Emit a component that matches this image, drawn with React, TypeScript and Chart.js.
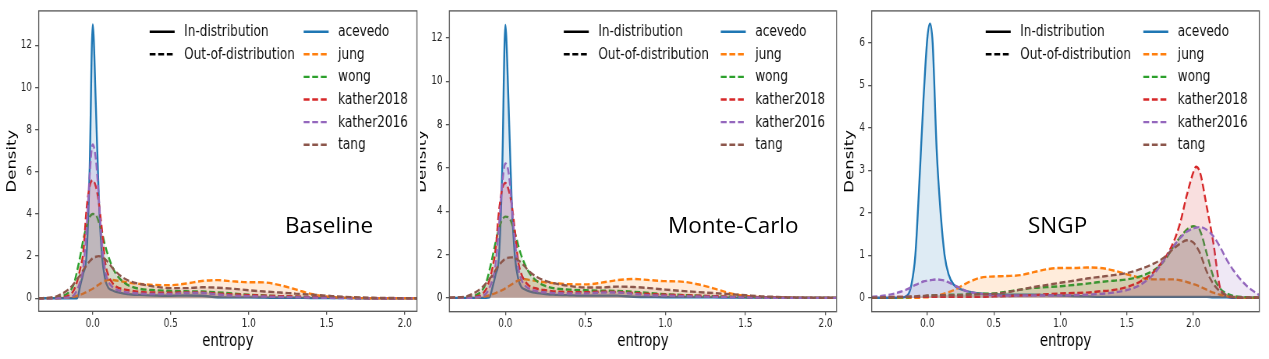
import React, { useEffect, useRef } from 'react';
import { Chart, registerables } from 'chart.js';

Chart.register(...registerables);

// ---------- data ----------
const SERIES_LABELS = ['acevedo', 'jung', 'wong', 'kather2018', 'kather2016', 'tang'];
const SERIES_COLORS = ['#1f77b4', '#ff7f0e', '#2ca02c', '#d62728', '#9467bd', '#8c564b'];
const STYLE_LABELS = ['In-distribution', 'Out-of-distribution'];
const X_TICKS = [0, 0.5, 1, 1.5, 2];
const Y_TICKS_AB = [0, 2, 4, 6, 8, 10, 12];
const Y_TICKS_C = [0, 1, 2, 3, 4, 5, 6];
const PANEL_NOTES = ['Baseline', 'Monte-Carlo', 'SNGP'];

// Baseline
const BASE_X = [-0.35, -0.25, -0.2, -0.15, -0.12, -0.1, -0.08, -0.06, -0.04, -0.02, 0, 0.02, 0.04, 0.06, 0.08, 0.1, 0.125, 0.15, 0.2, 0.25, 0.3, 0.4, 0.5, 0.6, 0.7, 0.8, 0.9, 1.0, 1.1, 1.2, 1.3, 1.4, 1.5, 1.6, 1.7, 1.8, 2.1];
const BASE_ACEVEDO = [0, 0, 0, 0, 0, 0, 0.6, 1.2, 2.0, 6.0, 13.0, 9.2, 4.6, 2.0, 0.9, 0.5, 0.38, 0.3, 0.22, 0.18, 0.16, 0.13, 0.12, 0.13, 0.12, 0.05, 0.04, 0.04, 0.03, 0.02, 0.02, 0.01, 0.01, 0.01, 0, 0, 0];
const BASE_JUNG = [0, 0, 0.01, 0.04, 0.08, 0.12, 0.17, 0.22, 0.3, 0.37, 0.45, 0.55, 0.65, 0.75, 0.83, 0.87, 0.87, 0.84, 0.78, 0.72, 0.68, 0.63, 0.62, 0.7, 0.82, 0.86, 0.8, 0.76, 0.75, 0.62, 0.42, 0.2, 0.08, 0.03, 0.01, 0, 0];
const BASE_WONG = [0, 0.02, 0.08, 0.3, 0.7, 1.3, 2.0, 2.8, 3.4, 3.85, 4.0, 3.95, 3.6, 3.1, 2.5, 2.0, 1.5, 1.15, 0.75, 0.55, 0.45, 0.38, 0.35, 0.33, 0.32, 0.28, 0.22, 0.17, 0.13, 0.1, 0.07, 0.05, 0.03, 0.02, 0.01, 0, 0];
const BASE_KATHER2018 = [0, 0.01, 0.03, 0.15, 0.4, 0.8, 1.4, 2.2, 4.2, 5.3, 5.6, 5.3, 4.5, 3.2, 1.7, 1.1, 0.75, 0.55, 0.42, 0.35, 0.3, 0.27, 0.26, 0.28, 0.27, 0.22, 0.18, 0.15, 0.12, 0.1, 0.08, 0.05, 0.04, 0.02, 0.01, 0, 0];
const BASE_KATHER2016 = [0, 0, 0.01, 0.05, 0.15, 0.4, 0.8, 1.5, 3.2, 5.8, 7.3, 6.6, 4.7, 2.5, 1.3, 0.8, 0.55, 0.42, 0.3, 0.25, 0.22, 0.2, 0.2, 0.25, 0.25, 0.18, 0.12, 0.1, 0.08, 0.06, 0.05, 0.03, 0.02, 0.01, 0, 0, 0];
const BASE_TANG = [0, 0.05, 0.2, 0.45, 0.7, 0.9, 1.1, 1.35, 1.55, 1.75, 1.9, 1.97, 2.0, 1.95, 1.85, 1.7, 1.45, 1.25, 0.95, 0.78, 0.68, 0.55, 0.48, 0.48, 0.52, 0.5, 0.45, 0.38, 0.32, 0.27, 0.22, 0.17, 0.12, 0.07, 0.04, 0.02, 0];

// Monte-Carlo
const MC_X = BASE_X;
const MC_ACEVEDO = [0, 0, 0, 0, 0, 0.02, 0.5, 1.1, 1.9, 5.8, 12.6, 9.0, 4.4, 1.9, 0.9, 0.5, 0.38, 0.3, 0.22, 0.18, 0.15, 0.12, 0.1, 0.1, 0.1, 0.05, 0.04, 0.03, 0.03, 0.02, 0.02, 0.01, 0.01, 0.01, 0, 0, 0];
const MC_JUNG = [0, 0, 0.01, 0.04, 0.08, 0.12, 0.17, 0.22, 0.29, 0.36, 0.44, 0.53, 0.62, 0.72, 0.8, 0.84, 0.86, 0.83, 0.77, 0.72, 0.68, 0.63, 0.62, 0.7, 0.82, 0.87, 0.82, 0.77, 0.75, 0.63, 0.44, 0.22, 0.09, 0.03, 0.01, 0, 0];
const MC_WONG = [0, 0.02, 0.08, 0.3, 0.7, 1.25, 1.9, 2.6, 3.2, 3.6, 3.75, 3.72, 3.45, 3.0, 2.45, 1.95, 1.5, 1.15, 0.75, 0.55, 0.45, 0.38, 0.35, 0.33, 0.32, 0.28, 0.22, 0.17, 0.13, 0.1, 0.07, 0.05, 0.03, 0.02, 0.01, 0, 0];
const MC_KATHER2018 = [0, 0.01, 0.03, 0.15, 0.4, 0.8, 1.4, 2.3, 4.0, 5.0, 5.3, 5.0, 4.3, 3.1, 1.7, 1.1, 0.75, 0.55, 0.42, 0.35, 0.3, 0.27, 0.26, 0.28, 0.27, 0.22, 0.18, 0.15, 0.12, 0.1, 0.08, 0.05, 0.04, 0.02, 0.01, 0, 0];
const MC_KATHER2016 = [0, 0, 0.01, 0.06, 0.2, 0.45, 0.85, 1.6, 3.3, 5.2, 6.2, 5.8, 4.3, 2.6, 1.4, 0.85, 0.55, 0.42, 0.3, 0.25, 0.22, 0.2, 0.2, 0.24, 0.25, 0.18, 0.12, 0.1, 0.08, 0.06, 0.05, 0.03, 0.02, 0.01, 0, 0, 0];
const MC_TANG = [0, 0.05, 0.2, 0.45, 0.68, 0.87, 1.05, 1.3, 1.5, 1.68, 1.8, 1.86, 1.87, 1.83, 1.75, 1.62, 1.42, 1.22, 0.95, 0.78, 0.68, 0.55, 0.48, 0.48, 0.52, 0.5, 0.45, 0.38, 0.32, 0.27, 0.22, 0.17, 0.12, 0.07, 0.04, 0.02, 0];

// SNGP
const SNGP_X = [-0.42, -0.3, -0.2, -0.15, -0.12, -0.09, -0.06, -0.03, 0, 0.02, 0.04, 0.07, 0.1, 0.13, 0.16, 0.2, 0.25, 0.3, 0.4, 0.5, 0.6, 0.7, 0.8, 0.9, 1.0, 1.1, 1.2, 1.3, 1.4, 1.5, 1.6, 1.7, 1.75, 1.8, 1.85, 1.9, 1.95, 2.0, 2.02, 2.05, 2.1, 2.15, 2.2, 2.25, 2.3, 2.4, 2.5];
const SNGP_ACEVEDO = [0, 0, 0, 0.05, 0.3, 1.0, 2.7, 4.6, 6.1, 6.45, 6.0, 3.5, 2.0, 1.0, 0.55, 0.3, 0.2, 0.15, 0.1, 0.08, 0.07, 0.07, 0.07, 0.06, 0.05, 0.04, 0.03, 0.02, 0.02, 0.02, 0.02, 0.02, 0.02, 0.02, 0.02, 0.02, 0.02, 0.02, 0.02, 0.02, 0.02, 0.01, 0.01, 0.01, 0, 0, 0];
const SNGP_JUNG = [0, 0, 0, 0, 0, 0, 0, 0.01, 0.01, 0.02, 0.03, 0.05, 0.07, 0.1, 0.13, 0.18, 0.26, 0.35, 0.47, 0.5, 0.51, 0.53, 0.6, 0.67, 0.7, 0.7, 0.71, 0.7, 0.64, 0.55, 0.47, 0.43, 0.43, 0.43, 0.43, 0.41, 0.37, 0.32, 0.3, 0.26, 0.19, 0.12, 0.07, 0.04, 0.02, 0, 0];
const SNGP_WONG = [0, 0, 0.01, 0.01, 0.02, 0.02, 0.03, 0.03, 0.04, 0.04, 0.05, 0.05, 0.06, 0.06, 0.07, 0.07, 0.07, 0.08, 0.09, 0.1, 0.14, 0.19, 0.23, 0.25, 0.27, 0.3, 0.33, 0.37, 0.4, 0.43, 0.5, 0.64, 0.76, 0.95, 1.2, 1.42, 1.6, 1.68, 1.66, 1.58, 1.05, 0.5, 0.22, 0.1, 0.04, 0.01, 0];
const SNGP_KATHER2018 = [0.01, 0.01, 0.02, 0.02, 0.02, 0.02, 0.02, 0.02, 0.02, 0.02, 0.02, 0.02, 0.02, 0.02, 0.02, 0.02, 0.02, 0.02, 0.02, 0.03, 0.04, 0.05, 0.06, 0.08, 0.1, 0.11, 0.12, 0.15, 0.18, 0.25, 0.38, 0.6, 0.78, 1.0, 1.3, 1.75, 2.4, 2.95, 3.08, 2.95, 2.15, 1.3, 0.25, 0.05, 0.01, 0, 0];
const SNGP_KATHER2016 = [0.02, 0.06, 0.14, 0.2, 0.25, 0.3, 0.34, 0.38, 0.4, 0.41, 0.42, 0.43, 0.42, 0.4, 0.36, 0.3, 0.22, 0.15, 0.09, 0.06, 0.05, 0.05, 0.05, 0.05, 0.05, 0.06, 0.07, 0.09, 0.12, 0.18, 0.3, 0.55, 0.75, 0.98, 1.2, 1.4, 1.55, 1.63, 1.65, 1.66, 1.6, 1.45, 1.2, 0.9, 0.65, 0.28, 0.05];
const SNGP_TANG = [0, 0.01, 0.02, 0.02, 0.03, 0.03, 0.04, 0.04, 0.05, 0.05, 0.05, 0.06, 0.06, 0.06, 0.06, 0.06, 0.06, 0.07, 0.08, 0.09, 0.13, 0.19, 0.25, 0.3, 0.35, 0.4, 0.45, 0.49, 0.53, 0.58, 0.67, 0.8, 0.88, 1.0, 1.15, 1.27, 1.35, 1.3, 1.22, 1.05, 0.62, 0.33, 0.15, 0.06, 0.02, 0, 0];

// ---------- layout ----------
const SQUEEZE = 0.78; // the source figure is compressed horizontally
const H = 359;
const FONT = "'DejaVu Sans', sans-serif";

type PanelCfg = {
  wrapLeft: number; wrapWidth: number; shift: number;
  area: { left: number; right: number; top: number; bottom: number };
  densityX: number;
  xMin: number; xMax: number; yMin: number; yMax: number;
  yTicks: number[];
  xs: number[]; series: number[][];
  legend: { col1: number; col2: number };
  note: string; noteLeft: number;
};

const PANELS: PanelCfg[] = [
  {
    wrapLeft: 0, wrapWidth: 420, shift: 0,
    area: { left: 38.7, right: 417.3, top: 7.3, bottom: 311.3 },
    densityX: 12.3,
    xMin: -0.346, xMax: 2.078, yMin: -0.62, yMax: 13.64,
    yTicks: Y_TICKS_AB,
    xs: BASE_X,
    series: [BASE_ACEVEDO, BASE_JUNG, BASE_WONG, BASE_KATHER2018, BASE_KATHER2016, BASE_TANG],
    legend: { col1: 267.3, col2: 113.3 },
    note: PANEL_NOTES[0], noteLeft: 285,
  },
  {
    wrapLeft: 420, wrapWidth: 420, shift: 10,
    area: { left: 449.3, right: 836.7, top: 7.3, bottom: 311.7 },
    densityX: 422.3,
    xMin: -0.35, xMax: 2.069, yMin: -0.64, yMax: 13.25,
    yTicks: Y_TICKS_AB,
    xs: MC_X,
    series: [MC_ACEVEDO, MC_JUNG, MC_WONG, MC_KATHER2018, MC_KATHER2016, MC_TANG],
    legend: { col1: 272.7, col2: 115.7 },
    note: PANEL_NOTES[1], noteLeft: 668,
  },
  {
    wrapLeft: 840, wrapWidth: 429, shift: 0,
    area: { left: 871.7, right: 1259.3, top: 9, bottom: 311.7 },
    densityX: 850,
    xMin: -0.418, xMax: 2.496, yMin: -0.33, yMax: 6.75,
    yTicks: Y_TICKS_C,
    xs: SNGP_X,
    series: [SNGP_ACEVEDO, SNGP_JUNG, SNGP_WONG, SNGP_KATHER2018, SNGP_KATHER2016, SNGP_TANG],
    legend: { col1: 273.6, col2: 116 },
    note: PANEL_NOTES[2], noteLeft: 1028,
  },
];

function rgba(hex: string, a: number) {
  const n = parseInt(hex.slice(1), 16);
  return `rgba(${(n >> 16) & 255},${(n >> 8) & 255},${n & 255},${a})`;
}

const DASH = [7.5, 3.5];

function Panel({ cfg }: { cfg: PanelCfg }) {
  const ref = useRef<HTMLCanvasElement | null>(null);
  const canvasPageLeft = cfg.wrapLeft - cfg.shift;
  const W = (cfg.wrapWidth + cfg.shift) / SQUEEZE;
  const toC = (px: number) => (px - canvasPageLeft) / SQUEEZE;

  useEffect(() => {
    const canvas = ref.current;
    if (!canvas) return;
    const yTitleSize = 16.5;
    const xTitleSize = 17;
    const yTitlePad = toC(cfg.densityX) - (yTitleSize * 1.2) / 2;

    const datasets = cfg.series.map((ys, i) => ({
      label: SERIES_LABELS[i],
      data: cfg.xs.map((x, j) => ({ x, y: ys[j] })),
      borderColor: SERIES_COLORS[i],
      backgroundColor: rgba(SERIES_COLORS[i], 0.15),
      fill: 'origin',
      borderWidth: 2.4,
      borderDash: i === 0 ? [] : DASH,
      pointRadius: 0,
      cubicInterpolationMode: 'monotone',
      order: cfg.series.length - i,
    }));

    const framePlugin = {
      id: 'frame',
      afterDraw(chart: any) {
        const { ctx, chartArea: a } = chart;
        ctx.save();
        ctx.strokeStyle = '#555';
        ctx.lineWidth = 1.3;
        ctx.strokeRect(a.left, a.top, a.right - a.left, a.bottom - a.top);
        ctx.restore();
      },
    };

    const legendPlugin = {
      id: 'twoColLegend',
      afterDraw(chart: any) {
        const { ctx, chartArea: a } = chart;
        const rowTop = a.top + 20.8;
        const rowGap = 22.6;
        const lineLen = 25 / SQUEEZE;
        const textGap = 34.5 / SQUEEZE;
        ctx.save();
        ctx.font = `15.5px ${FONT}`;
        ctx.textBaseline = 'middle';
        ctx.textAlign = 'left';
        ctx.lineWidth = 2.4;
        const drawEntry = (x: number, y: number, color: string, dashed: boolean, text: string) => {
          ctx.strokeStyle = color;
          ctx.setLineDash(dashed ? DASH : []);
          ctx.beginPath();
          ctx.moveTo(x, y);
          ctx.lineTo(x + lineLen, y);
          ctx.stroke();
          ctx.setLineDash([]);
          ctx.fillStyle = '#111';
          ctx.fillText(text, x + textGap, y + 0.5);
        };
        const x1 = a.right - cfg.legend.col1 / SQUEEZE;
        STYLE_LABELS.forEach((t, i) => drawEntry(x1, rowTop + i * rowGap, '#000', i === 1, t));
        const x2 = a.right - cfg.legend.col2 / SQUEEZE;
        chart.data.datasets.forEach((ds: any, i: number) =>
          drawEntry(x2, rowTop + i * rowGap, ds.borderColor, (ds.borderDash || []).length > 0, ds.label));
        ctx.restore();
      },
    };

    const chart = new Chart(canvas, {
      type: 'line',
      data: { datasets: datasets as any },
      options: {
        animation: false,
        responsive: false,
        devicePixelRatio: 1,
        layout: { padding: { left: 0, top: cfg.area.top, right: W - toC(cfg.area.right), bottom: 0 } },
        plugins: { legend: { display: false }, tooltip: { enabled: false } },
        scales: {
          x: {
            type: 'linear',
            min: cfg.xMin,
            max: cfg.xMax,
            afterBuildTicks: (s: any) => { s.ticks = X_TICKS.map((v) => ({ value: v })); },
            afterFit: (s: any) => { s.height = H - cfg.area.bottom; },
            ticks: {
              autoSkip: false, maxRotation: 0, padding: 2,
              color: '#262626',
              font: { family: FONT, size: 11.5 },
              callback: (v: any) => Number(v).toFixed(1),
            },
            grid: { drawOnChartArea: false, drawTicks: true, tickLength: 3.5, color: '#555', lineWidth: 1.3 },
            border: { display: false },
            title: {
              display: true, text: 'entropy', color: '#000',
              font: { family: FONT, size: xTitleSize },
              padding: { top: 0, bottom: 7.5 },
            },
          },
          y: {
            type: 'linear',
            min: cfg.yMin,
            max: cfg.yMax,
            afterBuildTicks: (s: any) => { s.ticks = cfg.yTicks.map((v) => ({ value: v })); },
            afterFit: (s: any) => { s.width = toC(cfg.area.left); },
            ticks: {
              autoSkip: false, padding: 4,
              color: '#262626',
              font: { family: FONT, size: 11.5 },
              callback: (v: any) => String(v),
            },
            grid: { drawOnChartArea: false, drawTicks: true, tickLength: 4.5, color: '#555', lineWidth: 1.3 },
            border: { display: false },
            title: {
              display: true, text: 'Density', color: '#000',
              font: { family: FONT, size: yTitleSize },
              padding: { top: yTitlePad, bottom: 0 },
            },
          },
        },
      } as any,
      plugins: [framePlugin, legendPlugin],
    });
    return () => chart.destroy();
  }, []);

  return (
    <div style={{ position: 'absolute', left: cfg.wrapLeft, top: 0, width: cfg.wrapWidth, height: H, overflow: 'hidden' }}>
      <canvas
        ref={ref}
        width={Math.round(W)}
        height={H}
        style={{
          position: 'absolute', left: -cfg.shift, top: 0,
          width: Math.round(W), height: H,
          transform: `scaleX(${SQUEEZE})`, transformOrigin: '0 0',
        }}
      />
      <div
        style={{
          position: 'absolute', left: cfg.noteLeft - cfg.wrapLeft, top: 214.4,
          fontFamily: "'Open Sans', sans-serif", fontSize: 22.5, lineHeight: '22.5px',
          color: '#000', whiteSpace: 'nowrap',
        }}
      >
        {cfg.note}
      </div>
    </div>
  );
}

export default function App() {
  return (
    <div style={{ position: 'absolute', left: 0, top: 0, width: 1269, height: H, background: '#fff', overflow: 'hidden' }}>
      {PANELS.map((p, i) => <Panel key={i} cfg={p} />)}
    </div>
  );
}
